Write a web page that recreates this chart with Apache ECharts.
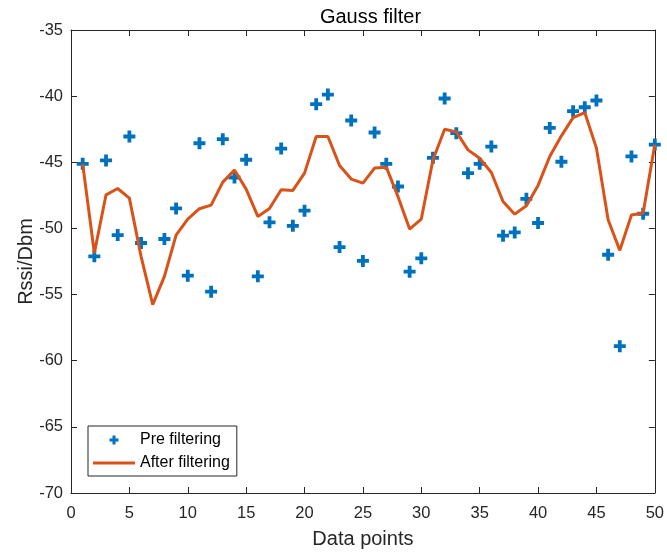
<!DOCTYPE html>
<html>
<head>
<meta charset="utf-8">
<script src="https://cdn.jsdelivr.net/npm/echarts@6/dist/echarts.min.js"></script>
<style>
  html, body { margin: 0; padding: 0; background: #fff; }
  #chart { width: 667px; height: 556px; }
</style>
</head>
<body>
<div id="chart"></div>
<script>
// ---- data ----
const dataPoints = [1,2,3,4,5,6,7,8,9,10,11,12,13,14,15,16,17,18,19,20,21,22,23,24,25,
                    26,27,28,29,30,31,32,33,34,35,36,37,38,39,40,41,42,43,44,45,46,47,48,49,50];
const preFiltering = [-45.12,-52.11,-44.86,-50.50,-43.05,-51.10,null,-50.80,-48.49,-53.57,
                      -43.56,-54.78,-43.25,-46.15,-44.81,-53.62,-49.54,-43.96,-49.80,-48.66,
                      -40.61,-39.88,-51.41,-41.84,-52.46,-42.75,-45.12,-46.83,-53.27,-52.26,
                      -44.66,-40.18,-42.80,-45.82,-45.12,-43.81,-50.55,-50.30,-47.76,-49.59,
                      -42.40,-44.96,-41.14,-40.84,-40.33,-51.99,-58.90,-44.56,-48.89,-43.66];
const afterFiltering = [-45.12,-51.86,-47.46,-46.98,-47.71,-52.11,-55.76,-53.62,-50.50,-49.29,
                        -48.51,-48.24,-46.50,-45.59,-47.03,-49.09,-48.49,-47.08,-47.13,-45.82,
                        -43.05,-43.05,-45.24,-46.27,-46.57,-45.44,-45.37,-47.58,-50.05,-49.29,
                        -44.81,-42.50,-42.70,-44.06,-44.69,-45.77,-47.96,-48.92,-48.29,-46.75,
                        -44.56,-43.00,-41.62,-41.24,-43.93,-49.34,-51.66,-48.99,-48.84,-43.66];
const xTicks = { min: 0, max: 50, step: 5 };
const yTicks = { min: -70, max: -35, step: 5 };
const seriesNames = ['Pre filtering', 'After filtering'];
const chartTitle = 'Gauss filter';
const xName = 'Data points';
const yName = 'Rssi/Dbm';

// ---- styles ----
const FONT = 'Liberation Sans, Arial, sans-serif';
const AXIS_COLOR = '#262626';
const BLUE = '#0072BD';
const ORANGE = '#D95319';
const plusPath = 'path://M4.1,0H7.9V4.1H12V7.9H7.9V12H4.1V7.9H0V4.1H4.1Z';
const legendPlusPath = 'path://M0,0M42,16M19.5,3.5H22.5V6.5H25.5V9.5H22.5V12.5H19.5V9.5H16.5V6.5H19.5Z';
const legendLinePath = 'path://M0,0M42,16M0,6.5H42V9.5H0Z';

const preData = dataPoints.map((x, i) => [x, preFiltering[i]]).filter(d => d[1] !== null);
const afterData = dataPoints.map((x, i) => [x, afterFiltering[i]]);

function baseAxis(extra) {
  return Object.assign({
    type: 'value',
    axisLine: { show: true, onZero: false, lineStyle: { color: AXIS_COLOR, width: 1 } },
    axisTick: { show: true, inside: true, length: 6, lineStyle: { color: AXIS_COLOR, width: 1 } },
    splitLine: { show: false },
    axisLabel: { color: AXIS_COLOR, fontSize: 16.5, fontFamily: FONT }
  }, extra);
}

const chart = echarts.init(document.getElementById('chart'), null, { renderer: 'canvas' });
chart.setOption({
  backgroundColor: '#ffffff',
  animation: false,
  title: {
    text: chartTitle,
    left: 365.5, textAlign: 'center',
    top: 2,
    textStyle: { fontFamily: FONT, fontSize: 20, fontWeight: 'normal', color: '#000' }
  },
  grid: { left: 71, right: 7, top: 30, bottom: 63, containLabel: false },
  xAxis: [
    baseAxis({
      position: 'bottom', min: xTicks.min, max: xTicks.max, interval: xTicks.step,
      name: xName, nameLocation: 'middle', nameGap: 36, nameMoveOverlap: false,
      nameTextStyle: { fontFamily: FONT, fontSize: 20, color: AXIS_COLOR },
      axisLabel: { color: AXIS_COLOR, fontSize: 16.5, fontFamily: FONT, margin: 12 }
    }),
    baseAxis({
      position: 'top', min: xTicks.min, max: xTicks.max, interval: xTicks.step,
      axisLabel: { show: false }
    })
  ],
  yAxis: [
    baseAxis({
      position: 'left', min: yTicks.min, max: yTicks.max, interval: yTicks.step,
      name: yName, nameLocation: 'middle', nameGap: 35, nameRotate: 90, nameMoveOverlap: false,
      nameTextStyle: { fontFamily: FONT, fontSize: 20, color: AXIS_COLOR },
      axisLabel: { color: AXIS_COLOR, fontSize: 16.5, fontFamily: FONT, margin: 8 }
    }),
    baseAxis({
      position: 'right', min: yTicks.min, max: yTicks.max, interval: yTicks.step,
      axisLabel: { show: false }
    })
  ],
  legend: {
    orient: 'vertical',
    left: 88, top: 426,
    padding: [6, 7, 5, 5],
    itemWidth: 42, itemHeight: 16, itemGap: 7,
    borderColor: AXIS_COLOR, borderWidth: 1, borderRadius: 0,
    backgroundColor: '#fff',
    textStyle: { fontFamily: FONT, fontSize: 16, color: '#000', lineHeight: 16 },
    data: [
      { name: seriesNames[0], icon: legendPlusPath, itemStyle: { color: BLUE, opacity: 1 } },
      { name: seriesNames[1], icon: legendLinePath, itemStyle: { color: ORANGE, opacity: 1 } }
    ]
  },
  series: [
    {
      name: seriesNames[0],
      type: 'scatter',
      xAxisIndex: 0, yAxisIndex: 0,
      symbol: plusPath,
      symbolSize: 12,
      itemStyle: { color: BLUE, opacity: 1 },
      data: preData,
      z: 2
    },
    {
      name: seriesNames[1],
      type: 'line',
      xAxisIndex: 0, yAxisIndex: 0,
      symbol: 'none',
      showSymbol: false,
      lineStyle: { color: ORANGE, width: 3 },
      itemStyle: { color: ORANGE },
      data: afterData,
      z: 3
    }
  ]
});
</script>
</body>
</html>
